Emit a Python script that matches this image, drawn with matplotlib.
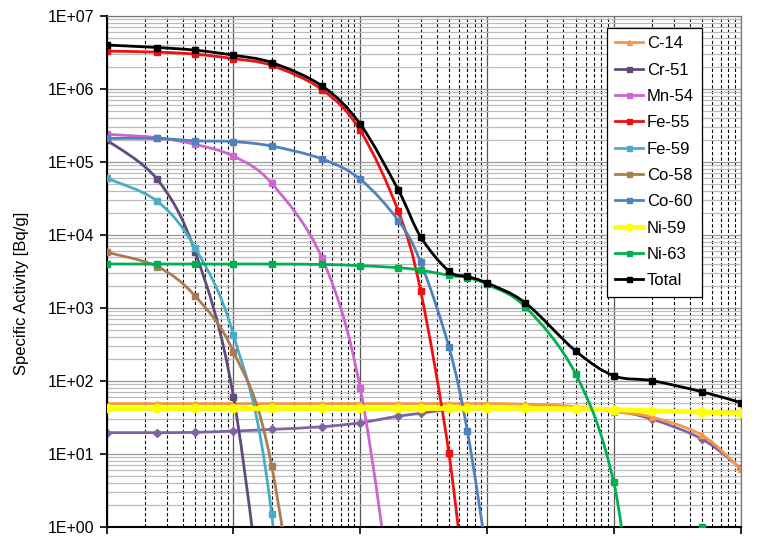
import matplotlib
matplotlib.use("Agg")
import matplotlib.pyplot as plt
import numpy as np
from matplotlib.ticker import LogLocator, NullFormatter
from matplotlib.path import Path
from matplotlib.patches import PathPatch
from matplotlib.lines import Line2D

plt.rcParams["font.family"] = ["Liberation Sans", "DejaVu Sans"]

nan = np.nan

# time points (years)
years = [0.1, 0.25, 0.5, 1, 2, 5, 10, 20, 30, 50, 70, 100, 200, 500, 1000, 2000, 5000, 10000]

c14 = [49, 49, 49, 49, 49, 49, 49, 49, 49, 49, 49, 49, 48, 44.5, 38, 32, 18, 6.2]
cr51 = [2.0e5, 5.8e4, 5.8e3, 61, 0.0065] + [nan] * 13
mn54 = [2.4e5, 2.15e5, 1.74e5, 1.2e5, 5.1e4, 4.8e3, 80, 0.023] + [nan] * 10
fe55 = [3.3e6, 3.2e6, 3.0e6, 2.6e6, 2.1e6, 9.8e5, 2.7e5, 2.1e4, 1.7e3, 10.4, 0.07] + [nan] * 7
fe59 = [6.0e4, 2.9e4, 6.6e3, 427, 1.5, 6e-8] + [nan] * 12
co58 = [5.8e3, 3.7e3, 1.45e3, 252, 6.9, 1.5e-4] + [nan] * 12
co60 = [2.1e5, 2.1e5, 1.95e5, 1.9e5, 1.65e5, 1.1e5, 5.8e4, 1.57e4, 4.2e3, 295, 20.7, 0.4] + [nan] * 6
ni59 = [42, 42, 42, 42, 42, 42, 42, 42, 42, 42, 42, 42, 42, 41.5, 40.5, 39, 37.5, 36]
ni63 = [4.0e3, 4.0e3, 4.0e3, 4.0e3, 4.0e3, 3.95e3, 3.8e3, 3.56e3, 3.3e3, 2.8e3, 2.6e3,
        2.1e3, 1.04e3, 125, 4.1, 0.004, 1.0, nan]
other = [19.6, 19.6, 19.8, 20.6, 21.7, 23.6, 26.8, 33, 36, 41, 42, 43, 43, 42, 39, 30, 15.9, 6.4]
total = [4.0e6, 3.7e6, 3.4e6, 2.9e6, 2.3e6, 1.1e6, 3.3e5, 4.1e4, 9.4e3, 3.2e3, 2.7e3,
         2.2e3, 1.18e3, 258, 118, 101, 71, 50.6]


def smooth_path(xs, ys):
    # Excel-style smoothed line: Bezier segments through the points in log space
    pts = np.column_stack([np.log10(xs), np.log10(ys)])
    n = len(pts)
    verts = [pts[0]]
    codes = [Path.MOVETO]
    for i in range(n - 1):
        p0 = pts[i - 1] if i > 0 else pts[i]
        p1 = pts[i]
        p2 = pts[i + 1]
        p3 = pts[i + 2] if i + 2 < n else pts[i + 1]
        verts += [p1 + (p2 - p0) / 6, p2 - (p3 - p1) / 6, p2]
        codes += [Path.CURVE4] * 3
    return Path(10 ** np.array(verts), codes)


fig = plt.figure(figsize=(7.65, 5.4), dpi=100)
ax = fig.add_axes([0.1395, 0.0241, 0.8285, 0.9463])

ax.set_xscale("log")
ax.set_yscale("log")

ax.xaxis.set_major_locator(LogLocator(base=10, numticks=20))
ax.xaxis.set_minor_locator(LogLocator(base=10, subs=np.arange(2, 10), numticks=100))
ax.yaxis.set_major_locator(LogLocator(base=10, numticks=20))
ax.yaxis.set_minor_locator(LogLocator(base=10, subs=np.arange(2, 10), numticks=100))
ax.grid(True, which="major", axis="x", color="#555555", lw=0.9, ls="-")
ax.grid(True, which="minor", axis="x", color="black", lw=0.8, ls=(0, (3, 2)))
ax.grid(True, which="major", axis="y", color="#999999", lw=0.9, ls="-")
ax.grid(True, which="minor", axis="y", color="#bbbbbb", lw=0.9, ls="-")
ax.set_axisbelow(True)

ax.xaxis.set_major_formatter(NullFormatter())
ax.xaxis.set_minor_formatter(NullFormatter())
ax.yaxis.set_minor_formatter(NullFormatter())
ax.yaxis.set_major_formatter(plt.FuncFormatter(lambda v, p: "1E+%02d" % int(round(np.log10(v)))))
ax.tick_params(which="minor", length=0)
ax.tick_params(which="major", direction="out", length=5, width=1.2, labelsize=11.5, color="black", pad=4)

for side in ["top", "right"]:
    ax.spines[side].set_color("#777777")
    ax.spines[side].set_linewidth(0.9)
for side in ["left", "bottom"]:
    ax.spines[side].set_color("black")
    ax.spines[side].set_linewidth(1.5)

series = [
    (other, None, "#8064A2", 2, "D", 4),
    (c14, "C-14", "#F79646", 2, "^", 4.5),
    (cr51, "Cr-51", "#604A7B", 2, "s", 4.5),
    (mn54, "Mn-54", "#CC66CC", 2, "s", 4.5),
    (fe55, "Fe-55", "#EE1111", 2, "s", 4.5),
    (fe59, "Fe-59", "#4BACC6", 2, "s", 4.5),
    (co58, "Co-58", "#A97C50", 2, "s", 4.5),
    (co60, "Co-60", "#4F81BD", 2, "s", 4.5),
    (ni59, "Ni-59", "#FFFF00", 3.5, "o", 6),
    (ni63, "Ni-63", "#00B050", 2, "s", 4.5),
    (total, "Total", "black", 2, "s", 4.5),
]

handles = []
for k, (vals, name, color, lw, mk, ms) in enumerate(series):
    xs = np.asarray(years, float)
    ys = np.asarray(vals, float)
    ok = ~np.isnan(ys)
    ax.add_patch(PathPatch(smooth_path(xs[ok], ys[ok]), fill=False, edgecolor=color,
                           lw=lw, zorder=2 + k * 0.1, capstyle="round", joinstyle="round"))
    ax.plot(xs, ys, ls="none", marker=mk, ms=ms, color=color, zorder=2.05 + k * 0.1)
    if name:
        handles.append(Line2D([], [], color=color, lw=lw, marker=mk, ms=ms * 0.8, label=name))

ax.set_xlim(0.1, 10000)
ax.set_ylim(1, 1e7)

ax.set_ylabel("Specific Activity [Bq/g]", fontsize=12)
ax.yaxis.set_label_coords(-0.122, 0.458)

leg = ax.legend(handles=handles, loc="upper left", bbox_to_anchor=(0.789, 0.9765),
                borderaxespad=0, fontsize=12, frameon=True, fancybox=False,
                framealpha=1, edgecolor="black", handlelength=1.7, handletextpad=0.2,
                labelspacing=0.68, borderpad=0.5)
leg.get_frame().set_linewidth(0.9)

fig.savefig("out.png", dpi=100)
